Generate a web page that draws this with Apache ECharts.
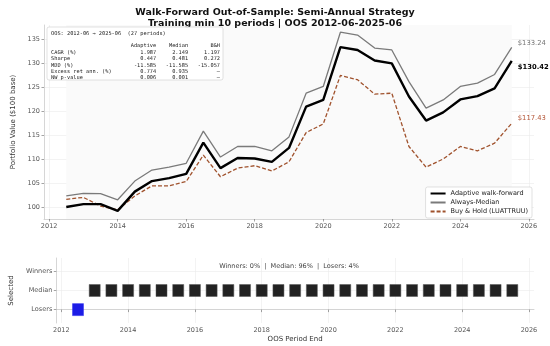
<!DOCTYPE html>
<html><head><meta charset="utf-8">
<script src="https://cdn.jsdelivr.net/npm/echarts@6/dist/echarts.min.js"></script>
<style>html,body{margin:0;padding:0;background:#fff}#c{width:550px;height:346px}</style>
</head><body><div id="c"></div>
<script>
// ---- data ----
const dates = [2012.5, 2013.0, 2013.5, 2014.0, 2014.5, 2015.0, 2015.5, 2016.0, 2016.5, 2017.0, 2017.5, 2018.0, 2018.5, 2019.0, 2019.5, 2020.0, 2020.5, 2021.0, 2021.5, 2022.0, 2022.5, 2023.0, 2023.5, 2024.0, 2024.5, 2025.0, 2025.5];
const adaptive = [100.0, 100.6, 100.6, 99.2, 103.2, 105.4, 106.0, 106.9, 113.4, 108.1, 110.2, 110.1, 109.4, 112.3, 120.9, 122.3, 133.3, 132.7, 130.5, 129.9, 123.0, 118.0, 119.7, 122.4, 123.1, 124.7, 130.42];
const median = [102.3, 102.85, 102.8, 101.5, 105.4, 107.7, 108.3, 109.1, 115.8, 110.4, 112.6, 112.6, 111.7, 114.6, 123.7, 125.1, 136.4, 135.8, 133.1, 132.7, 126.1, 120.6, 122.3, 125.1, 125.8, 127.6, 133.24];
const buyHold = [101.6, 102.0, 100.2, 99.4, 102.3, 104.4, 104.4, 105.3, 110.8, 106.3, 108.1, 108.6, 107.5, 109.4, 115.5, 117.3, 127.4, 126.5, 123.5, 123.7, 112.6, 108.3, 110.0, 112.6, 111.7, 113.3, 117.43];
const selection = ['Losers','Median','Median','Median','Median','Median','Median','Median','Median','Median','Median','Median','Median','Median','Median','Median','Median','Median','Median','Median','Median','Median','Median','Median','Median','Median','Median'];
const selCategories = ['Losers', 'Median', 'Winners'];
const xTicks = [2012, 2014, 2016, 2018, 2020, 2022, 2024, 2026];
const yTicks = [100, 105, 110, 115, 120, 125, 130, 135];
const seriesNames = ['Adaptive walk-forward', 'Always-Median', 'Buy & Hold (LUATTRUU)'];
const statsHeader = 'OOS: 2012-06 → 2025-06  (27 periods)';
const statsCols = ['Adaptive', 'Median', 'B&H'];
const statsRows = [
  ['CAGR (%)', '1.987', '2.149', '1.197'],
  ['Sharpe', '0.447', '0.481', '0.272'],
  ['MDD (%)', '-11.585', '-11.585', '-15.057'],
  ['Excess ret ann. (%)', '0.774', '0.935', '—'],
  ['NW p-value', '0.006', '0.001', '—']
];
const selSummary = 'Winners: 0%  |  Median: 96%  |  Losers: 4%';
const titleText = 'Walk-Forward Out-of-Sample: Semi-Annual Strategy\nTraining min 10 periods | OOS 2012-06-2025-06';

// ---- build ----
const pad = (s, n, right) => { s = String(s); while (s.length < n) s = right ? ' ' + s : s + ' '; return s; };
const statLines = [statsHeader, '', pad('', 20) + pad(statsCols[0], 13, true) + pad(statsCols[1], 10, true) + pad(statsCols[2], 10, true)];
statsRows.forEach(r => statLines.push(pad(r[0], 20) + pad(r[1], 13, true) + pad(r[2], 10, true) + pad(r[3], 10, true)));

const pair = arr => dates.map((d, i) => [d, arr[i]]);
const selIdx = selection.map(s => selCategories.indexOf(s));
const losersPts = [], medianPts = [], winnersPts = [];
dates.forEach((d, i) => { const p = [d, selIdx[i]]; (selection[i] === 'Losers' ? losersPts : selection[i] === 'Median' ? medianPts : winnersPts).push(p); });

const font = 'DejaVu Sans';
const tickLbl = { color: '#555', fontSize: 6.5, fontFamily: font, margin: 4 };
const xAxisBase = (gi) => ({
  type: 'value', gridIndex: gi, min: 2011.85, max: 2026.15,
  axisLine: { show: true, lineStyle: { color: '#ccc', width: 0.8 } },
  axisTick: { show: true, customValues: xTicks, length: 2.5, lineStyle: { color: '#666', width: 0.6 } },
  axisLabel: Object.assign({ customValues: xTicks, formatter: v => String(v) }, tickLbl),
  splitLine: { show: true, lineStyle: { color: '#ebebeb', width: 0.6 } }
});

const chart = echarts.init(document.getElementById('c'), null, { renderer: 'canvas' });
chart.setOption({
  animation: false,
  backgroundColor: '#fff',
  textStyle: { fontFamily: font },
  title: { text: titleText, left: 'center', top: 2, textStyle: { fontSize: 9.5, fontWeight: 'bold', color: '#111', lineHeight: 11, fontFamily: font } },
  grid: [
    { left: 44, right: 16, top: 25, height: 194 },
    { left: 44, right: 16, top: 258, height: 65 }
  ],
  xAxis: [
    xAxisBase(0),
    Object.assign(xAxisBase(1), { name: 'OOS Period End', nameLocation: 'middle', nameGap: 13, nameTextStyle: { fontSize: 7, color: '#333', fontFamily: font } })
  ],
  yAxis: [
    { type: 'value', gridIndex: 0, min: 97.5, max: 137.9,
      name: 'Portfolio Value ($100 base)', nameLocation: 'middle', nameGap: 25, nameTextStyle: { fontSize: 7, color: '#333', fontFamily: font },
      axisLine: { show: true, lineStyle: { color: '#ccc', width: 0.8 } },
      axisTick: { show: true, customValues: yTicks, length: 2.5, lineStyle: { color: '#666', width: 0.6 } },
      axisLabel: Object.assign({ customValues: yTicks }, tickLbl),
      splitLine: { show: true, lineStyle: { color: '#ebebeb', width: 0.6 } } },
    { type: 'value', gridIndex: 1, min: -0.7, max: 2.7,
      name: 'Selected', nameLocation: 'middle', nameGap: 30, nameTextStyle: { fontSize: 7, color: '#333', fontFamily: font },
      axisLine: { show: true, lineStyle: { color: '#ccc', width: 0.8 } },
      axisTick: { show: true, customValues: [0, 1, 2], length: 2.5, lineStyle: { color: '#666', width: 0.6 } },
      axisLabel: Object.assign({ customValues: [0, 1, 2], formatter: v => selCategories[Math.round(v)] }, tickLbl),
      splitLine: { show: true, lineStyle: { color: '#ebebeb', width: 0.6 } } }
  ],
  legend: {
    orient: 'vertical', right: 18, top: 187, padding: [3, 4, 3, 4], itemGap: 2,
    itemWidth: 15, itemHeight: 6,
    itemStyle: { opacity: 0 },
    backgroundColor: 'rgba(255,255,255,0.9)', borderColor: '#ccc', borderWidth: 0.6, borderRadius: 2,
    textStyle: { fontSize: 6.5, color: '#222', fontFamily: font },
    data: seriesNames
  },
  graphic: [
    { type: 'rect', shape: { x: 47, y: 27, width: 176, height: 53, r: 2 }, style: { fill: 'rgba(255,255,255,0.92)', stroke: '#ccc', lineWidth: 0.6 }, z: 100 },
    { type: 'text', x: 51, y: 30, style: { text: statLines.join('\n'), font: '5.3px "DejaVu Sans Mono"', lineHeight: 6.4, fill: '#222' }, z: 101 },
    { type: 'text', x: 289, y: 263, style: { text: selSummary, align: 'center', font: '6.5px "DejaVu Sans"', fill: '#444' }, z: 101 }
  ],
  series: [
    { name: seriesNames[1], type: 'line', xAxisIndex: 0, yAxisIndex: 0, data: pair(median), symbol: 'none',
      lineStyle: { color: '#7a7a7a', width: 1.3 }, itemStyle: { color: '#7a7a7a' },
      endLabel: { show: true, formatter: p => '$' + p.value[1].toFixed(2), color: '#777', fontSize: 6.8, distance: 6, offset: [0, -4.5] },
      markArea: { silent: true, itemStyle: { color: '#fafafa', opacity: 1 }, data: [[{ xAxis: dates[0] }, { xAxis: dates[dates.length - 1] }]] },
      z: 3 },
    { name: seriesNames[2], type: 'line', xAxisIndex: 0, yAxisIndex: 0, data: pair(buyHold), symbol: 'none',
      lineStyle: { color: '#a0522d', width: 1.3, type: [4, 2] }, itemStyle: { color: '#a0522d' },
      endLabel: { show: true, formatter: p => '$' + p.value[1].toFixed(2), color: '#b5583a', fontSize: 6.8, distance: 6, offset: [0, -5] },
      z: 4 },
    { name: seriesNames[0], type: 'line', xAxisIndex: 0, yAxisIndex: 0, data: pair(adaptive), symbol: 'none',
      lineStyle: { color: '#000', width: 2.4 }, itemStyle: { color: '#000' },
      endLabel: { show: true, formatter: p => '$' + p.value[1].toFixed(2), color: '#000', fontWeight: 'bold', fontSize: 6.8, distance: 6, offset: [0, 6] },
      z: 5 },
    { name: 'Losers', type: 'scatter', xAxisIndex: 1, yAxisIndex: 1, data: losersPts, symbol: 'rect', symbolSize: [11, 12],
      itemStyle: { color: '#1c1ce6', borderColor: '#3030f0', borderWidth: 0.5, opacity: 1 } },
    { name: 'Median', type: 'scatter', xAxisIndex: 1, yAxisIndex: 1, data: medianPts, symbol: 'rect', symbolSize: [11, 12],
      itemStyle: { color: '#222', borderColor: '#555', borderWidth: 0.5, opacity: 1 } },
    { name: 'Winners', type: 'scatter', xAxisIndex: 1, yAxisIndex: 1, data: winnersPts, symbol: 'rect', symbolSize: [11, 12],
      itemStyle: { color: '#2a9d2a', opacity: 1 } }
  ]
});
</script></body></html>
